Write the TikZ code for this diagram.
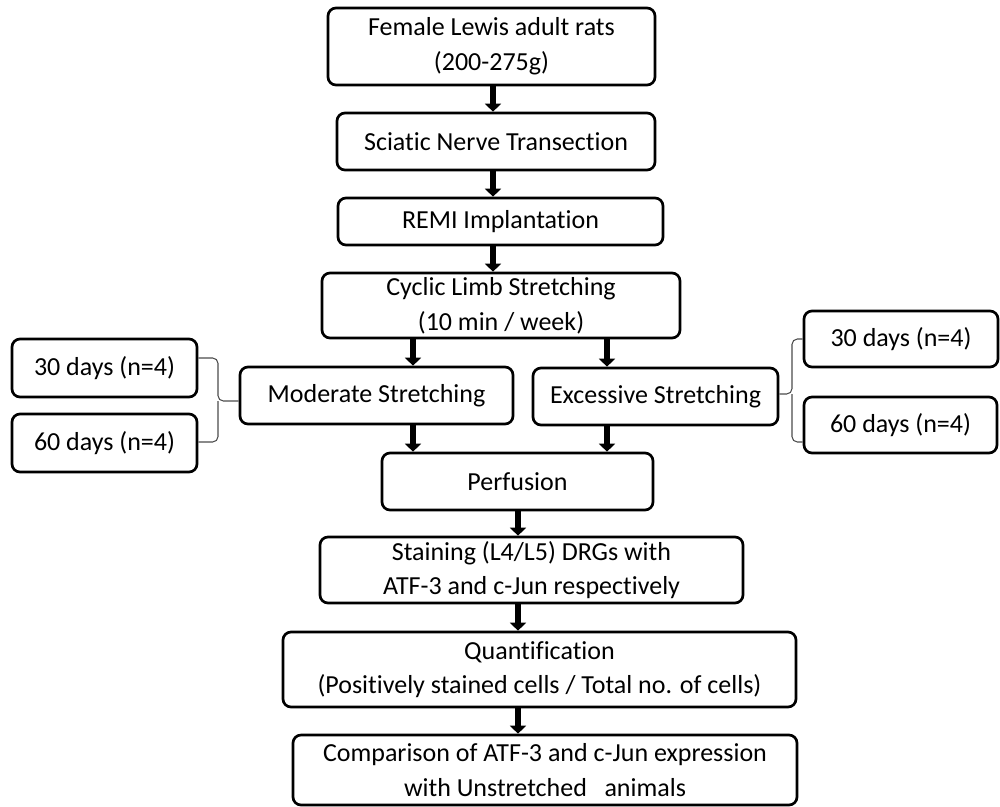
\documentclass[tikz,border=0pt]{standalone}
\usepackage{fontspec}
\setmainfont{Carlito}[Ligatures=NoCommon]
\usetikzlibrary{arrows.meta}
\begin{document}
\begin{tikzpicture}[x=0.75pt,y=-0.75pt,
  box/.style={draw=black, line width=2pt, rounded corners=6pt, align=center, inner sep=0pt,
    font=\fontsize{19.5}{26}\selectfont},
  wh/.style 2 args={minimum width={#1*0.75pt}, minimum height={#2*0.75pt}},
  arr/.style={line width=5pt, -{Triangle[width=12pt,length=6pt]}},
  br/.style={draw=black!70, line width=0.8pt, rounded corners=4pt}]
\useasboundingbox (0,0) rectangle (1000,807);

\node[box, wh={327}{77}] (female) at (491.5,46.5) {Female Lewis adult rats\\(200-275g)};
\node[box, wh={318}{57}] (sciatic) at (496,141.5) {Sciatic Nerve Transection};
\node[box, wh={325}{47}] (remi) at (500.5,221.5) {REMI Implantation};
\node[box, wh={358}{65}] (cyclic) at (501,305.5) {Cyclic Limb Stretching\\(10 min / week)};
\node[box, wh={185}{58}] (l30) at (104.5,368) {30 days (n=4)};
\node[box, wh={185}{58}] (l60) at (104.5,443) {60 days (n=4)};
\node[box, wh={273}{57}] (moderate) at (376.5,395.5) {Moderate Stretching};
\node[box, wh={245}{57}] (excessive) at (655.5,396.5) {Excessive Stretching};
\node[box, wh={194}{56}] (r30) at (901,339) {30 days (n=4)};
\node[box, wh={193}{56}] (r60) at (900.5,425) {60 days (n=4)};
\node[box, wh={271}{57}] (perfusion) at (517.5,481.5) {Perfusion};
\node[box, wh={423}{66}] (staining) at (531.5,570) {Staining (L4/L5) DRGs with\\ATF-3 and c-Jun respectively};
\node[box, wh={513}{75}] (quant) at (539.5,669.5) {Quantification\\(Positively stained cells / Total no. of cells)};
\node[box, wh={504}{70}] (comparison) at (545,770) {Comparison of ATF-3 and c-Jun expression\\with Unstretched~~ animals};

\coordinate (ax1) at (493,0);
\coordinate (ax2) at (413,0);
\coordinate (ax3) at (607,0);
\coordinate (ax4) at (518,0);

\draw[arr] (female.south -| ax1) -- (sciatic.north -| ax1);
\draw[arr] (sciatic.south -| ax1) -- (remi.north -| ax1);
\draw[arr] (remi.south -| ax1) -- (cyclic.north -| ax1);
\draw[arr] (cyclic.south -| ax2) -- (moderate.north -| ax2);
\draw[arr] (cyclic.south -| ax3) -- (excessive.north -| ax3);
\draw[arr] (moderate.south -| ax2) -- (perfusion.north -| ax2);
\draw[arr] (excessive.south -| ax3) -- (perfusion.north -| ax3);
\draw[arr] (perfusion.south -| ax4) -- (staining.north -| ax4);
\draw[arr] (staining.south -| ax4) -- (quant.north -| ax4);
\draw[arr] (quant.south -| ax4) -- (comparison.north -| ax4);

\draw[br] (l30.east |- 0,358) -- (218,358) -- (218,401) -- (moderate.west |- 0,401);
\draw[br] (l60.east |- 0,442) -- (218,442) -- (218,401);
\draw[br] (r30.west |- 0,339) -- (792,339) -- (792,394) -- (excessive.east |- 0,394);
\draw[br] (r60.west |- 0,442) -- (792,442) -- (792,394);
\end{tikzpicture}
\end{document}
